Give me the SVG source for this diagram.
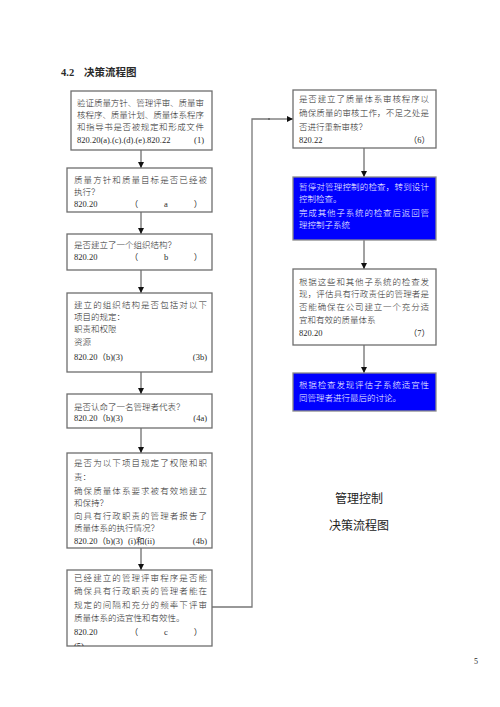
<svg xmlns="http://www.w3.org/2000/svg" width="500" height="707" viewBox="0 0 500 707">
<defs>
<style>
.box{fill:#fff;stroke:#6e6e6e;stroke-width:1.3}
.blue{fill:#0000ff;stroke:#8a8a8a;stroke-width:1.3}
text{font-family:"Liberation Serif","Noto Sans CJK SC",serif;font-size:8.5px;fill:#2a2a2a}
.w{fill:#fff}
.cn{font-family:"Noto Sans CJK SC","Liberation Serif",sans-serif;font-weight:300}
.ln{stroke:#444;stroke-width:1;fill:none}
.cl{stroke:#777;stroke-width:1.3;fill:none}
</style>
<marker id="ah" viewBox="0 0 10 10" refX="10" refY="5" markerWidth="6" markerHeight="6" orient="auto" markerUnits="userSpaceOnUse">
<path d="M0,0 L10,5 L0,10 z" fill="#111"/>
</marker>
<clipPath id="c7"><rect x="67" y="570" width="145" height="76"/></clipPath>
</defs>
<rect width="500" height="707" fill="#fff"/>
<g id="title">
<text x="61" y="76" style="font-size:10.5px;font-weight:bold">4.2</text>
<text x="84" y="76" class="cn" style="font-size:10.5px;font-weight:bold">决策流程图</text>
</g>
<g id="connectors">
<line class="ln" x1="141" y1="150" x2="141" y2="168" marker-end="url(#ah)"/>
<line class="ln" x1="141" y1="212" x2="141" y2="234" marker-end="url(#ah)"/>
<line class="ln" x1="141" y1="270" x2="141" y2="293" marker-end="url(#ah)"/>
<line class="ln" x1="141" y1="372" x2="141" y2="394" marker-end="url(#ah)"/>
<line class="ln" x1="141" y1="428" x2="141" y2="453" marker-end="url(#ah)"/>
<line class="ln" x1="141" y1="548" x2="141" y2="570" marker-end="url(#ah)"/>
<polyline class="cl" points="212,607 252,607 252,119 270,119"/>
<line class="ln" x1="268" y1="119" x2="293" y2="119" marker-end="url(#ah)"/>
<line class="ln" x1="364" y1="148" x2="364" y2="177" marker-end="url(#ah)"/>
<line class="ln" x1="364" y1="240" x2="364" y2="269" marker-end="url(#ah)"/>
<line class="ln" x1="364" y1="345" x2="364" y2="373" marker-end="url(#ah)"/>
</g>
<g id="n1">
<rect class="box" x="71" y="91" width="141" height="59"/>
<text class="cn" x="77" y="106" textLength="127" lengthAdjust="spacing">验证质量方针、管理评审、质量审</text>
<text class="cn" x="77" y="118" textLength="127" lengthAdjust="spacing">核程序、质量计划、质量体系程序</text>
<text class="cn" x="77" y="130" textLength="127" lengthAdjust="spacing">和指导书是否被规定和形成文件</text>
<text x="77" y="143">820.20(a).(c).(d).(e).820.22</text>
<text x="204" y="143" text-anchor="end">(1)</text>
</g>
<g id="n2">
<rect class="box" x="67" y="168" width="145" height="44"/>
<text class="cn" x="74" y="183" textLength="133" lengthAdjust="spacing">质量方针和质量目标是否已经被</text>
<text class="cn" x="74" y="195">执行？</text>
<text x="74" y="207">820.20</text>
<text x="134" y="207" text-anchor="middle">（</text>
<text x="166" y="207" text-anchor="middle">a</text>
<text x="198" y="207" text-anchor="middle">）</text>
</g>
<g id="n3">
<rect class="box" x="67" y="234" width="145" height="36"/>
<text class="cn" x="74" y="248">是否建立了一个组织结构？</text>
<text x="74" y="260">820.20</text>
<text x="134" y="260" text-anchor="middle">（</text>
<text x="166" y="260" text-anchor="middle">b</text>
<text x="198" y="260" text-anchor="middle">）</text>
</g>
<g id="n3b">
<rect class="box" x="67" y="293" width="145" height="79"/>
<text class="cn" x="74" y="308" textLength="133" lengthAdjust="spacing">建立的组织结构是否包括对以下</text>
<text class="cn" x="74" y="320">项目的规定：</text>
<text class="cn" x="74" y="332">职责和权限</text>
<text class="cn" x="74" y="345">资源</text>
<text x="74" y="360">820.20（b)(3)</text>
<text x="207" y="360" text-anchor="end">(3b)</text>
</g>
<g id="n4a">
<rect class="box" x="67" y="394" width="145" height="34"/>
<text class="cn" x="74" y="410">是否认命了一名管理者代表？</text>
<text x="74" y="421">820.20（b)(3)</text>
<text x="207" y="421" text-anchor="end">(4a)</text>
</g>
<g id="n4b">
<rect class="box" x="67" y="453" width="145" height="95"/>
<text class="cn" x="74" y="466" textLength="133" lengthAdjust="spacing">是否为以下项目规定了权限和职</text>
<text class="cn" x="74" y="480">责：</text>
<text class="cn" x="74" y="494" textLength="133" lengthAdjust="spacing">确保质量体系要求被有效地建立</text>
<text class="cn" x="74" y="506">和保持？</text>
<text class="cn" x="74" y="519" textLength="133" lengthAdjust="spacing">向具有行政职责的管理者报告了</text>
<text class="cn" x="74" y="531">质量体系的执行情况？</text>
<text x="74" y="544">820.20（b)(3)</text>
<text x="128" y="544">(i)和(ii)</text>
<text x="207" y="544" text-anchor="end">(4b)</text>
</g>
<g id="n5">
<rect class="box" x="67" y="570" width="145" height="76"/>
<g clip-path="url(#c7)">
<text class="cn" x="74" y="581" textLength="133" lengthAdjust="spacing">已经建立的管理评审程序是否能</text>
<text class="cn" x="74" y="594" textLength="133" lengthAdjust="spacing">确保具有行政职责的管理者能在</text>
<text class="cn" x="74" y="608" textLength="133" lengthAdjust="spacing">规定的间隔和充分的频率下评审</text>
<text class="cn" x="74" y="621">质量体系的适宜性和有效性。</text>
<text x="74" y="635">820.20</text>
<text x="134" y="635" text-anchor="middle">（</text>
<text x="166" y="635" text-anchor="middle">c</text>
<text x="198" y="635" text-anchor="middle">）</text>
<text x="74" y="649">(5)</text>
</g>
</g>
<g id="n6">
<rect class="box" x="293" y="90" width="143" height="58"/>
<text class="cn" x="299" y="102" textLength="130" lengthAdjust="spacing">是否建立了质量体系审核程序以</text>
<text class="cn" x="299" y="116" textLength="130" lengthAdjust="spacing">确保质量的审核工作，不足之处是</text>
<text class="cn" x="299" y="130">否进行重新审核？</text>
<text x="299" y="143">820.22</text>
<text x="430" y="143" text-anchor="end">（6）</text>
</g>
<g id="nb1">
<rect class="blue" x="293" y="177" width="143" height="63"/>
<text class="cn w" x="299" y="190" textLength="130" lengthAdjust="spacing">暂停对管理控制的检查，转到设计</text>
<text class="cn w" x="299" y="202">控制检查。</text>
<text class="cn w" x="299" y="216" textLength="130" lengthAdjust="spacing">完成其他子系统的检查后返回管</text>
<text class="cn w" x="299" y="228">理控制子系统</text>
</g>
<g id="n7">
<rect class="box" x="293" y="269" width="143" height="76"/>
<text class="cn" x="299" y="285" textLength="130" lengthAdjust="spacing">根据这些和其他子系统的检查发</text>
<text class="cn" x="299" y="297" textLength="130" lengthAdjust="spacing">现，评估具有行政责任的管理者是</text>
<text class="cn" x="299" y="310" textLength="130" lengthAdjust="spacing">否能确保在公司建立一个充分适</text>
<text class="cn" x="299" y="323">宜和有效的质量体系</text>
<text x="299" y="336">820.20</text>
<text x="430" y="336" text-anchor="end">（7）</text>
</g>
<g id="nb2">
<rect class="blue" x="293" y="373" width="143" height="38"/>
<text class="cn w" x="299" y="388" textLength="130" lengthAdjust="spacing">根据检查发现评估子系统适宜性</text>
<text class="cn w" x="299" y="401">同管理者进行最后的讨论。</text>
</g>
<g id="caption">
<text x="359" y="503" text-anchor="middle" style="font-family:'Noto Sans CJK SC',sans-serif;font-size:12px;font-weight:normal;fill:#222">管理控制</text>
<text x="359" y="530" text-anchor="middle" style="font-family:'Noto Sans CJK SC',sans-serif;font-size:12px;font-weight:normal;fill:#222">决策流程图</text>
</g>
<text x="474" y="664" style="font-size:8px">5</text>
</svg>
